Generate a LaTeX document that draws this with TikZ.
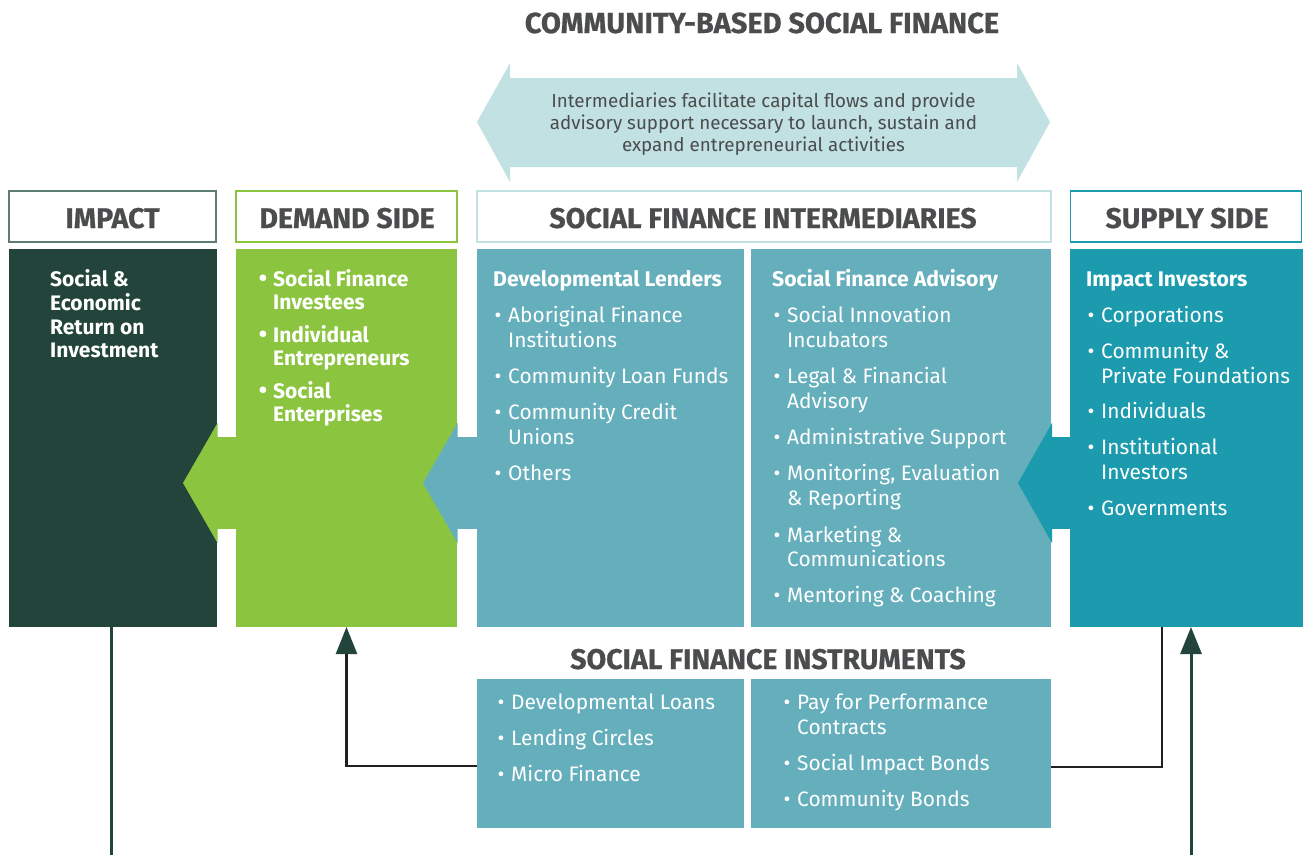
\documentclass[tikz,border=0pt]{standalone}
\usepackage{fontspec}
\setmainfont{Fira Sans}
\newfontfamily\heavyfont[FakeBold=0.6]{Fira Sans}
\usetikzlibrary{arrows.meta}

\definecolor{dkgreen}{HTML}{22443A}
\definecolor{lime}{HTML}{8BC43F}
\definecolor{lteal}{HTML}{65AEBC}
\definecolor{steal}{HTML}{1B9BAD}
\definecolor{pale}{HTML}{C1E1E2}
\definecolor{hdrgray}{HTML}{4B4C4E}
\definecolor{impborder}{HTML}{5E7D72}
\definecolor{linkdark}{HTML}{231F20}

\tikzset{
  panel/.style={inner sep=0pt, outer sep=0pt, draw=none},
  hdrbox/.style={inner sep=0pt, outer sep=0pt, fill=white, line width=1.5pt},
  hdrtext/.style={inner sep=0pt, text=hdrgray, font=\heavyfont\bfseries\fontsize{28.5}{28.5}\selectfont, anchor=base},
  boxtitle/.style={inner sep=0pt, text=white, font=\bfseries\fontsize{21.2}{21.2}\selectfont, anchor=base west},
  bodytext/.style={inner sep=0pt, text=white, font=\fontsize{20.9}{20.9}\selectfont, anchor=base west},
  boldtext/.style={inner sep=0pt, text=white, font=\bfseries\fontsize{21}{21}\selectfont, anchor=base west},
  bulletmark/.style={inner sep=0pt, text=white, font=\fontsize{21}{21}\selectfont, anchor=base},
  boldbullet/.style={bulletmark, font=\bfseries\fontsize{24}{24}\selectfont},
  notetext/.style={inner sep=0pt, text=hdrgray, font=\fontsize{18.8}{22}\selectfont, align=center},
  darklink/.style={draw=linkdark, line width=2.4pt},
  greenlink/.style={draw=dkgreen, line width=3pt},
  headtip/.style={-{Triangle[length=27pt,width=21pt,color=dkgreen]}},
}

% one bulleted list: x of text, bullet offset, node prefix, text style, bullet style, entries y/bullet/text
\newcommand{\bulletlist}[6]{%
  \foreach \yy/\bb/\tt [count=\k] in {#6} {
    \node[#4] (#3\k) at (#1,\yy) {\tt};
    \ifnum\bb=1 \node[#5] (#3b\k) at (#1-#2,\yy) {•}; \fi
  }%
}

\begin{document}
\begin{tikzpicture}[x=1pt,y=-1pt]
\useasboundingbox (0,0) rectangle (1303,855);
\fill[white] (0,0) rectangle (1303,855);

% title
\node[hdrtext, font=\heavyfont\bfseries\fontsize{29}{29}\selectfont] (title) at (762,33) {COMMUNITY-BASED SOCIAL FINANCE};

% double-headed note arrow
\fill[pale] (477,122) -- (510,63) -- (510,78) -- (1017,78) -- (1017,63) -- (1050,122)
  -- (1017,182) -- (1017,167) -- (510,167) -- (510,182) -- cycle;
\node[notetext] (note) at (763.5,124) {Intermediaries facilitate capital flows and provide\\advisory support necessary to launch, sustain and\\expand entrepreneurial activities};

% column headers
\node[hdrbox, draw=impborder, minimum width=207pt, minimum height=51pt] (hImpact) at (112.5,216.5) {};
\node[hdrbox, draw=lime, minimum width=221pt, minimum height=51pt] (hDemand) at (346.5,216.5) {};
\node[hdrbox, draw=pale, minimum width=574pt, minimum height=51pt] (hInter) at (764,216.5) {};
\node[hdrbox, draw=steal, minimum width=231pt, minimum height=51pt] (hSupply) at (1186,216.5) {};
\node[hdrtext] (tImpact) at (112.5,228) {IMPACT};
\node[hdrtext] (tDemand) at (347,228) {DEMAND SIDE};
\node[hdrtext] (tInter) at (763,228) {SOCIAL FINANCE INTERMEDIARIES};
\node[hdrtext] (tSupply) at (1187,228) {SUPPLY SIDE};

% main panels
\node[panel, fill=dkgreen, minimum width=208pt, minimum height=378pt] (impact) at (113,438) {};
\node[panel, fill=lime, minimum width=221pt, minimum height=378pt] (demand) at (346.5,438) {};
\node[panel, fill=lteal, minimum width=267pt, minimum height=378pt] (lenders) at (610.5,438) {};
\node[panel, fill=lteal, minimum width=300pt, minimum height=378pt] (advisory) at (901,438) {};
\node[panel, fill=steal, minimum width=233pt, minimum height=378pt] (supply) at (1186.5,438) {};

% flow chevrons between panels
\fill[lime] (216,437) rectangle (237,529);
\fill[lime] (217.5,423) -- (183,483) -- (217.5,543) -- cycle;
\fill[lteal] (456,437) rectangle (478,529);
\fill[lteal] (457.5,423) -- (423,483) -- (457.5,543) -- cycle;
\fill[steal] (1050,437) rectangle (1071,529);
\fill[steal] (1052,423) -- (1018,483) -- (1052,543) -- cycle;

% impact panel
\bulletlist{50}{10}{imp}{boldtext}{boldbullet}{286/0/Social \&, 310/0/Economic, 334/0/Return on, 357/0/Investment}

% demand panel
\bulletlist{273}{10}{dem}{boldtext}{boldbullet}{286/1/Social Finance, 309/0/Investees, 342/1/Individual, 365/0/Entrepreneurs, 398/1/Social, 421/0/Enterprises}

% developmental lenders
\node[boxtitle] (lendT) at (493,286) {Developmental Lenders};
\bulletlist{508}{10}{len}{bodytext}{bulletmark}{322/1/Aboriginal Finance, 347/0/Institutions, 383/1/Community Loan Funds, 419/1/Community Credit, 444/0/Unions, 480/1/Others}

% social finance advisory
\node[boxtitle] (advT) at (772,286) {Social Finance Advisory};
\bulletlist{787}{10}{adv}{bodytext}{bulletmark}{322/1/Social Innovation, 347/0/Incubators, 383/1/Legal \& Financial, 408/0/Advisory, 444/1/Administrative Support, 480/1/{Monitoring, Evaluation}, 505/0/\& Reporting, 542/1/Marketing \&, 566/0/Communications, 602/1/Mentoring \& Coaching}

% supply panel
\node[boxtitle] (supT) at (1086,286) {Impact Investors};
\bulletlist{1101}{10}{sup}{bodytext}{bulletmark}{322/1/Corporations, 358/1/Community \&, 383/0/Private Foundations, 418/1/Individuals, 454/1/Institutional, 479/0/Investors, 515/1/Governments}

% instruments
\node[hdrtext] (tInst) at (768,669) {SOCIAL FINANCE INSTRUMENTS};
\node[panel, fill=lteal, minimum width=267pt, minimum height=149pt] (instL) at (610.5,753.5) {};
\node[panel, fill=lteal, minimum width=300pt, minimum height=149pt] (instR) at (901,753.5) {};
\bulletlist{511}{10}{inl}{bodytext}{bulletmark}{709/1/Developmental Loans, 745/1/Lending Circles, 781/1/Micro Finance}
\bulletlist{797}{10}{inr}{bodytext}{bulletmark}{709/1/Pay for Performance, 734/0/Contracts, 770/1/Social Impact Bonds, 806/1/Community Bonds}

% connectors
\coordinate (impactOut) at (111.5,855);
\coordinate (supplyIn) at (1191,855);
\draw[greenlink] (impact.south -| impactOut) -- (impactOut);
\draw[darklink, headtip] (instL.west |- 0,766) -| (demand.south);
\draw[darklink] (instR.east |- 0,767) -| (supply.south -| 1162,0);
\draw[greenlink, headtip] (supplyIn) -- (supplyIn |- supply.south);
\end{tikzpicture}
\end{document}
